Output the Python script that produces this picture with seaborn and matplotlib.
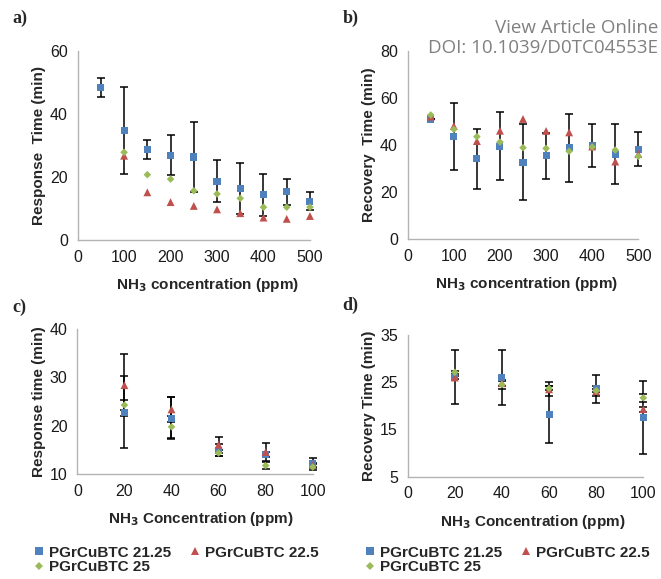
"""Response / recovery times of PGrCuBTC sensors vs NH3 concentration"""

import numpy as np
import pandas as pd
import seaborn as sns
import matplotlib

matplotlib.use("Agg")
import matplotlib.pyplot as plt
from matplotlib.lines import Line2D

nan = np.nan

SERIES = ["PGrCuBTC 21.25", "PGrCuBTC 22.5", "PGrCuBTC 25"]
COLORS = ["#4F81BD", "#C0504D", "#9BBB59"]
MARKERS = ["s", "^", "D"]
SIZES = [26, 32, 15]

# panel a / b: 50-500 ppm
conc_high = [50, 100, 150, 200, 250, 300, 350, 400, 450, 500]
a_blue = [48.3, 34.8, 28.6, 26.8, 26.3, 18.6, 16.3, 14.3, 15.3, 12.3]
a_blue_err = [3.0, 13.8, 2.95, 6.35, 11.0, 6.6, 8.2, 6.55, 4.1, 2.85]
a_red = [nan, 26.7, 15.1, 12.0, 10.8, 9.7, 8.5, 7.1, 6.7, 7.6]
a_green = [nan, 27.8, 20.7, 19.3, 15.6, 14.6, 13.2, 10.4, 10.4, 10.4]

b_blue = [51.0, 43.5, 34.1, 39.5, 32.6, 35.3, 38.7, 39.6, 36.1, 38.1]
b_blue_err = [0.0, 14.1, 12.8, 14.5, 16.2, 9.8, 14.4, 9.2, 12.6, 7.2]
b_red = [52.0, 48.0, 41.6, 46.0, 51.0, 45.9, 45.3, 39.3, 32.9, 36.1]
b_green = [52.7, 46.6, 43.5, 41.2, 38.8, 38.5, 37.3, 39.1, 37.8, 35.1]

# panel c / d: 20-100 ppm
conc_low = [20, 40, 60, 80, 100]
c_blue = [22.8, 21.6, 15.0, 14.1, 12.3]
c_blue_err = [7.4, 4.4, 1.2, 0.5, 1.0]
c_red = [28.4, 23.4, 16.1, 14.6, 11.9]
c_red_err = [6.4, 2.6, 1.6, 1.8, 0.4]
c_green = [24.3, 19.8, 14.4, 11.8, 11.5]
c_green_err = [1.0, 2.2, 0.6, 0.8, 0.6]

d_blue = [26.1, 26.0, 18.2, 23.6, 17.6]
d_blue_err = [5.8, 5.9, 6.0, 2.9, 7.7]
d_red = [26.0, 24.8, 23.5, 23.1, 19.3]
d_red_err = [0.3, 0.5, 1.5, 1.1, 0.5]
d_green = [27.1, 24.5, 23.7, 23.2, 21.7]
d_green_err = [0.3, 1.0, 0.4, 0.3, 0.8]


def build(conc, vals, errs):
    frames = []
    for name, v, e in zip(SERIES, vals, errs):
        frames.append(pd.DataFrame({"conc": conc, "val": v, "err": e, "series": name}))
    return pd.concat(frames, ignore_index=True)


def draw(ax, df, xlim, xticks, ylim, yticks, xlabel, ylabel, xlab_pos):
    for name in SERIES:
        sub = df[(df["series"] == name) & df["err"].notna() & df["val"].notna()]
        if len(sub):
            ax.errorbar(sub["conc"], sub["val"], yerr=sub["err"], fmt="none",
                        ecolor="black", elinewidth=1.1, capsize=2.6,
                        capthick=1.1, zorder=2, clip_on=False)
    sns.scatterplot(data=df.dropna(subset=["val"]), x="conc", y="val",
                    hue="series", style="series", size="series",
                    hue_order=SERIES, style_order=SERIES, size_order=SERIES,
                    palette=COLORS, markers=dict(zip(SERIES, MARKERS)),
                    sizes=dict(zip(SERIES, SIZES)), linewidth=0,
                    legend=False, ax=ax, zorder=3, clip_on=False)
    ax.set_xlim(*xlim)
    ax.set_ylim(*ylim)
    ax.set_xticks(xticks)
    ax.set_yticks(yticks)
    ax.set_xlabel(xlabel, fontsize=11, fontweight="bold", labelpad=8)
    ax.xaxis.label.set_x(xlab_pos)
    ax.set_ylabel(ylabel, fontsize=11, fontweight="bold", labelpad=3)
    for side in ["top", "right"]:
        ax.spines[side].set_visible(False)
    for side in ["left", "bottom"]:
        ax.spines[side].set_color("#b3b3b3")
        ax.spines[side].set_linewidth(1.0)
    ax.tick_params(direction="out", length=4, width=1.0, color="#b3b3b3",
                   labelsize=11.5, labelcolor="#1a1a1a", pad=3)


def main():
    sns.set_theme(style="white")
    plt.rcParams["font.family"] = ["Liberation Sans", "DejaVu Sans"]

    fig = plt.figure(figsize=(6.61, 5.79), dpi=100)
    ax_a = fig.add_axes([0.1175, 0.5855, 0.3514, 0.327])
    ax_b = fig.add_axes([0.6168, 0.5872, 0.3489, 0.3252])
    ax_c = fig.add_axes([0.117, 0.1808, 0.3561, 0.251])
    ax_d = fig.add_axes([0.6168, 0.1767, 0.3564, 0.2447])

    df_a = build(conc_high, [a_blue, a_red, a_green], [a_blue_err, [nan] * 10, [nan] * 10])
    df_b = build(conc_high, [b_blue, b_red, b_green], [b_blue_err, [nan] * 10, [nan] * 10])
    df_c = build(conc_low, [c_blue, c_red, c_green], [c_blue_err, c_red_err, c_green_err])
    df_d = build(conc_low, [d_blue, d_red, d_green], [d_blue_err, d_red_err, d_green_err])

    xl_high = "NH$_\\mathbf{3}$ concentration (ppm)"
    xl_low = "NH$_\\mathbf{3}$ Concentration (ppm)"
    draw(ax_a, df_a, (0, 500), range(0, 501, 100), (0, 60), [0, 20, 40, 60],
         xl_high, "Response  Time (min)", 0.56)
    draw(ax_b, df_b, (0, 500), range(0, 501, 100), (0, 80), [0, 20, 40, 60, 80],
         xl_high, "Recovery  Time (min)", 0.517)
    draw(ax_c, df_c, (0, 100), range(0, 101, 20), (10, 40), [10, 20, 30, 40],
         xl_low, "Response time (min)", 0.525)
    draw(ax_d, df_d, (0, 100), range(0, 101, 20), (5, 35), [5, 15, 25, 35],
         xl_low, "Recovery Time (min)", 0.532)

    # panel letters
    for lbl, x, y in [("a)", 12, 18), ("b)", 343, 18), ("c)", 12, 307), ("d)", 342, 305)]:
        fig.text(x / 661, 1 - y / 579, lbl, family="Liberation Serif",
                 fontweight="bold", fontsize=13, va="center", ha="left")

    # journal watermark
    fig.text(658 / 661, 1 - 28 / 579, "View Article Online", color="#808080",
             fontsize=13.5, ha="right", va="center", family="Open Sans")
    fig.text(658 / 661, 1 - 48 / 579, "DOI: 10.1039/D0TC04553E", color="#808080",
             fontsize=13.5, ha="right", va="center", family="Open Sans")

    handles = [Line2D([], [], linestyle="none", marker=m, color=c,
                      markersize=ms, markeredgewidth=0)
               for m, c, ms in zip(MARKERS, COLORS, [5.5, 6, 4.5])]
    order = [0, 2, 1]
    for left in [27 / 661, 358 / 661]:
        fig.legend([handles[i] for i in order], [SERIES[i] for i in order],
                   loc="upper left", bbox_to_anchor=(left, 1 - 538 / 579),
                   ncol=2, frameon=False, handlelength=0.6,
                   handletextpad=0.35, columnspacing=1.25, labelspacing=0.05,
                   borderpad=0, prop={"weight": "bold", "size": 11})

    fig.savefig("out.png", dpi=100)


if __name__ == "__main__":
    main()
